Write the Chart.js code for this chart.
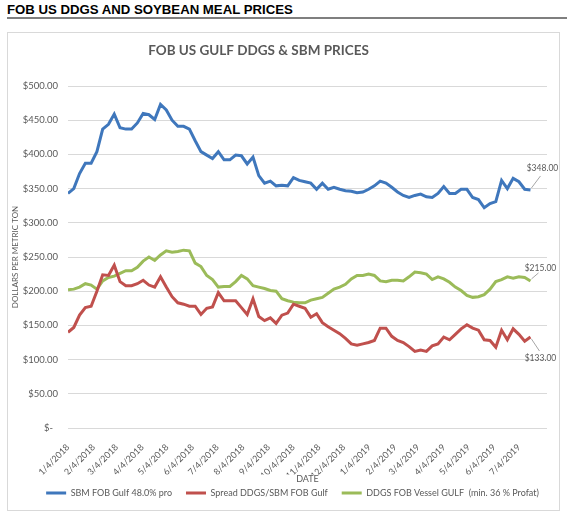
<!DOCTYPE html>
<html>
<head>
<meta charset="utf-8">
<script src="https://cdn.jsdelivr.net/npm/chart.js@4.4.1/dist/chart.umd.min.js"></script>
<style>
  body { margin: 0; background: #fff; width: 567px; height: 514px; position: relative; overflow: hidden; }
  #head { position: absolute; left: 7px; top: 2px; font: bold 13.2px "Liberation Sans", Arial, sans-serif; color: #000; }
  #rule { position: absolute; left: 7px; top: 17px; width: 560px; height: 2px; background: #7f7f7f; }
  #box { position: absolute; left: 7px; top: 32px; width: 553px; height: 479px; border: 1px solid #d9d9d9; box-sizing: border-box; }
  #c { position: absolute; left: 8px; top: 33px; }
</style>
</head>
<body>
<div id="head">FOB US DDGS AND SOYBEAN MEAL PRICES</div>
<div id="rule"></div>
<div id="box"></div>
<canvas id="c" width="551" height="477"></canvas>
<script>
// weekly quotes starting 1/4/2018
const startDate = Date.UTC(2018, 0, 4);
const dayMs = 86400000;

const xTickLabels = ['1/4/2018', '2/4/2018', '3/4/2018', '4/4/2018', '5/4/2018', '6/4/2018',
  '7/4/2018', '8/4/2018', '9/4/2018', '10/4/2018', '11/4/2018', '12/4/2018',
  '1/4/2019', '2/4/2019', '3/4/2019', '4/4/2019', '5/4/2019', '6/4/2019', '7/4/2019'];

const sbmPrice = [343, 350, 372, 387, 387, 404, 437, 444, 459, 439, 437, 437, 446, 460, 458, 451,
  473, 465, 450, 441, 441, 437, 420, 404, 399, 394, 404, 392, 392, 399, 398, 386, 396, 369, 358,
  361, 354, 355, 354, 366, 362, 360, 358, 349, 358, 349, 352, 349, 347, 346, 344, 345, 349, 354,
  361, 358, 352, 345, 340, 337, 340, 342, 338, 337, 343, 353, 343, 343, 349, 349, 337, 334, 322,
  328, 331, 362, 350, 365, 360, 349, 348];

const spread = [140, 147, 165, 176, 178, 200, 224, 223, 238, 214, 208, 208, 211, 216, 209, 206,
  221, 206, 192, 183, 181, 178, 178, 166, 175, 177, 198, 186, 186, 186, 176, 166, 189, 163, 157,
  161, 153, 165, 168, 181, 178, 175, 162, 167, 154, 148, 143, 138, 131, 123, 121, 123, 125, 128,
  146, 146, 134, 128, 125, 119, 112, 114, 112, 120, 123, 133, 129, 137, 145, 151, 146, 143, 129,
  128, 118, 143, 129, 145, 137, 127, 133];

const ddgsPrice = [202, 203, 206, 211, 209, 203, 215, 220, 222, 226, 230, 230, 235, 244, 250, 245,
  253, 259, 257, 258, 260, 259, 241, 236, 223, 217, 206, 207, 207, 214, 223, 218, 208, 206, 204,
  201, 200, 189, 186, 184, 183, 183, 187, 189, 191, 197, 203, 206, 210, 218, 223, 223, 225, 223,
  215, 214, 216, 216, 215, 221, 228, 227, 225, 217, 221, 218, 213, 206, 201, 194, 191, 192, 195,
  203, 214, 217, 221, 219, 221, 220, 215];

const seriesNames = ['SBM FOB Gulf 48.0% pro', 'Spread DDGS/SBM FOB Gulf', 'DDGS FOB Vessel GULF  (min. 36 % Profat)'];
const seriesColors = ['#3F77BC', '#C0504D', '#9BBB59'];

const grey = '#595959';
const fontFam = 'Lato, "Open Sans", sans-serif';

const dayOf = s => {
  const [m, d, y] = s.split('/').map(Number);
  return (Date.UTC(y, m - 1, d) - startDate) / dayMs;
};
const tickDays = xTickLabels.map(dayOf);
const weekly = vals => vals.map((v, i) => ({ x: i * 7, y: v }));
const money = v => '$' + v.toFixed(2);

// last-value callouts with leader lines
const endLabels = {
  id: 'endLabels',
  afterDatasetsDraw(chart) {
    const ctx = chart.ctx;
    const spots = [[10, -14, 12, -22], [9, 14, 10, 21], [8, -8, 10, -13]];
    ctx.save();
    ctx.font = '8.5px ' + fontFam;
    ctx.textAlign = 'center';
    ctx.textBaseline = 'middle';
    chart.data.datasets.forEach((ds, i) => {
      const els = chart.getDatasetMeta(i).data;
      const pt = els[els.length - 1];
      const s = spots[i];
      ctx.strokeStyle = '#a6a6a6';
      ctx.lineWidth = 1;
      ctx.beginPath();
      ctx.moveTo(pt.x + 1, pt.y + Math.sign(s[1]) * 2);
      ctx.lineTo(pt.x + s[0], pt.y + s[1]);
      ctx.stroke();
      ctx.fillStyle = grey;
      ctx.fillText(money(ds.data[ds.data.length - 1].y), pt.x + s[2], pt.y + s[3]);
    });
    ctx.restore();
  }
};

// Excel puts the title a bit left of centre and the legend a bit right
const nudge = {
  id: 'nudge',
  afterLayout(chart) {
    chart.titleBlock.left -= 19;
    chart.titleBlock.right -= 19;
    chart.legend.left += 15;
    chart.legend.right += 15;
  }
};

new Chart(document.getElementById('c'), {
  type: 'line',
  data: {
    datasets: [sbmPrice, spread, ddgsPrice].map((vals, i) => ({
      label: seriesNames[i],
      data: weekly(vals),
      borderColor: seriesColors[i],
      backgroundColor: seriesColors[i],
      borderWidth: 3,
      pointRadius: 0,
      tension: 0
    }))
  },
  options: {
    responsive: false,
    animation: false,
    layout: { padding: { left: 0, right: 12, top: 0, bottom: 2.5 } },
    plugins: {
      title: {
        display: true,
        text: 'FOB US GULF DDGS & SBM PRICES',
        color: grey,
        font: { family: fontFam, size: 13.5, weight: 'bold' },
        padding: { top: 10, bottom: 26.8 }
      },
      legend: {
        position: 'bottom',
        labels: {
          usePointStyle: true,
          pointStyle: 'line',
          pointStyleWidth: 20,
          padding: 14,
          color: grey,
          font: { family: fontFam, size: 9 }
        }
      },
      tooltip: { enabled: false }
    },
    scales: {
      x: {
        type: 'linear',
        min: 0,
        max: 580,
        afterBuildTicks: scale => { scale.ticks = tickDays.map(v => ({ value: v })); },
        afterFit: scale => { scale.height = 46.5; },
        grid: { display: false },
        border: { display: false },
        ticks: {
          autoSkip: false,
          minRotation: 45,
          maxRotation: 45,
          padding: 6,
          color: grey,
          font: { family: fontFam, size: 9 },
          callback: v => xTickLabels[tickDays.indexOf(v)]
        },
        title: {
          display: true,
          text: 'DATE',
          color: grey,
          font: { family: fontFam, size: 9 },
          padding: { top: 0, bottom: -10 }
        }
      },
      y: {
        min: 0,
        max: 500,
        afterFit: scale => { scale.width = 60; },
        grid: { color: '#d9d9d9', drawTicks: false },
        border: { display: false },
        ticks: {
          stepSize: 50,
          padding: 10,
          color: grey,
          font: { family: fontFam, size: 9.5 },
          callback: v => v === 0 ? '$-  ' : money(v)
        },
        title: {
          display: true,
          text: 'DOLLARS PER METRIC TON',
          color: grey,
          font: { family: fontFam, size: 8 },
          padding: { top: 3, bottom: 0 }
        }
      }
    }
  },
  plugins: [endLabels, nudge]
});
</script>
</body>
</html>
